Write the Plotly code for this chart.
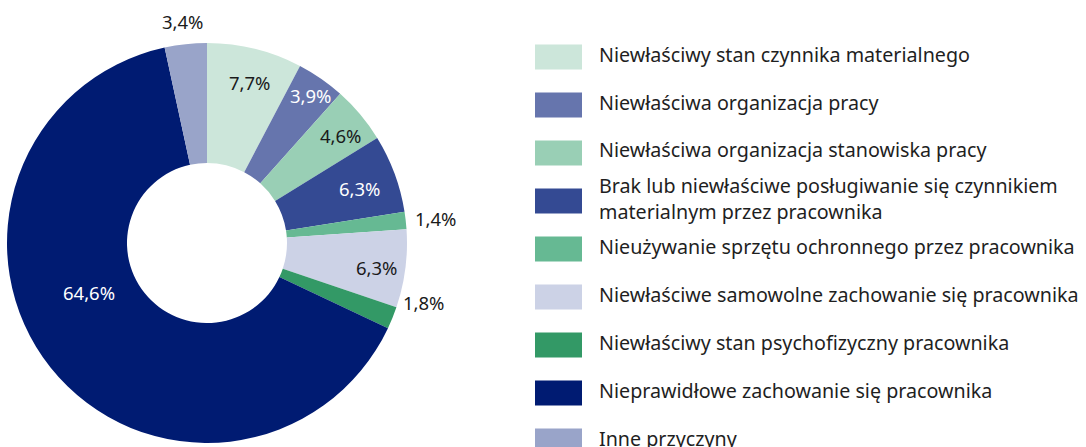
import plotly.graph_objects as go

categories = [
    "Niewłaściwy stan czynnika materialnego",
    "Niewłaściwa organizacja pracy",
    "Niewłaściwa organizacja stanowiska pracy",
    "Brak lub niewłaściwe posługiwanie się czynnikiem<br>materialnym przez pracownika",
    "Nieużywanie sprzętu ochronnego przez pracownika",
    "Niewłaściwe samowolne zachowanie się pracownika",
    "Niewłaściwy stan psychofizyczny pracownika",
    "Nieprawidłowe zachowanie się pracownika",
    "Inne przyczyny",
]
values = [7.7, 3.9, 4.6, 6.3, 1.4, 6.3, 1.8, 64.6, 3.4]
labels_text = [f"{v:.1f}%".replace(".", ",") for v in values]

colors = ["#cce6da", "#6675ad", "#99cfb5", "#344a93", "#66b993",
          "#ccd2e6", "#339966", "#001b72", "#99a4c9"]
text_colors = ["#1a1a1a", "#ffffff", "#1a1a1a", "#ffffff", "#1a1a1a",
               "#1a1a1a", "#1a1a1a", "#ffffff", "#1a1a1a"]

W, H = 1086, 447
FONT = "Noto Sans"
TXT = "#1f1f1f"

# slice label positions (pixels from top-left)
label_pos = [(250, 82), (311, 95), (341, 135), (360, 188), (436, 218),
             (377, 267), (424, 302), (89, 292), (183, 22)]

fig = go.Figure()
fig.add_trace(go.Pie(
    labels=categories,
    values=values,
    textinfo="none",
    marker=dict(colors=colors, line=dict(width=0)),
    hole=0.4,
    sort=False,
    direction="clockwise",
    rotation=0,
    showlegend=False,
    hoverinfo="label+percent",
    domain=dict(x=[7 / W, 407 / W], y=[1 - 443 / H, 1 - 43 / H]),
))

for i, (px, py) in enumerate(label_pos):
    fig.add_annotation(xref="paper", yref="paper", x=px / W, y=1 - py / H,
                       text=labels_text[i], showarrow=False,
                       xanchor="center", yanchor="middle",
                       font=dict(family=FONT, size=18.5, color=text_colors[i]))

# custom legend (large swatches)
y0 = 57
step = 48
for i, (cat, col) in enumerate(zip(categories, colors)):
    yc = y0 + i * step
    fig.add_shape(type="rect", xref="paper", yref="paper",
                  x0=535 / W, x1=582 / W,
                  y0=1 - (yc + 12.5) / H, y1=1 - (yc - 12.5) / H,
                  fillcolor=col, line=dict(width=0))
    fig.add_annotation(xref="paper", yref="paper", x=597 / W, y=1 - (yc - 3) / H,
                       text=cat, showarrow=False, xanchor="left", yanchor="middle",
                       align="left",
                       font=dict(family=FONT, size=19.7, color=TXT))

fig.update_layout(
    width=W, height=H,
    margin=dict(l=0, r=0, t=0, b=0),
    paper_bgcolor="white",
    plot_bgcolor="white",
)
fig.write_html("out.html", config={"displayModeBar": False},
               post_script="document.body.style.margin='0';")
